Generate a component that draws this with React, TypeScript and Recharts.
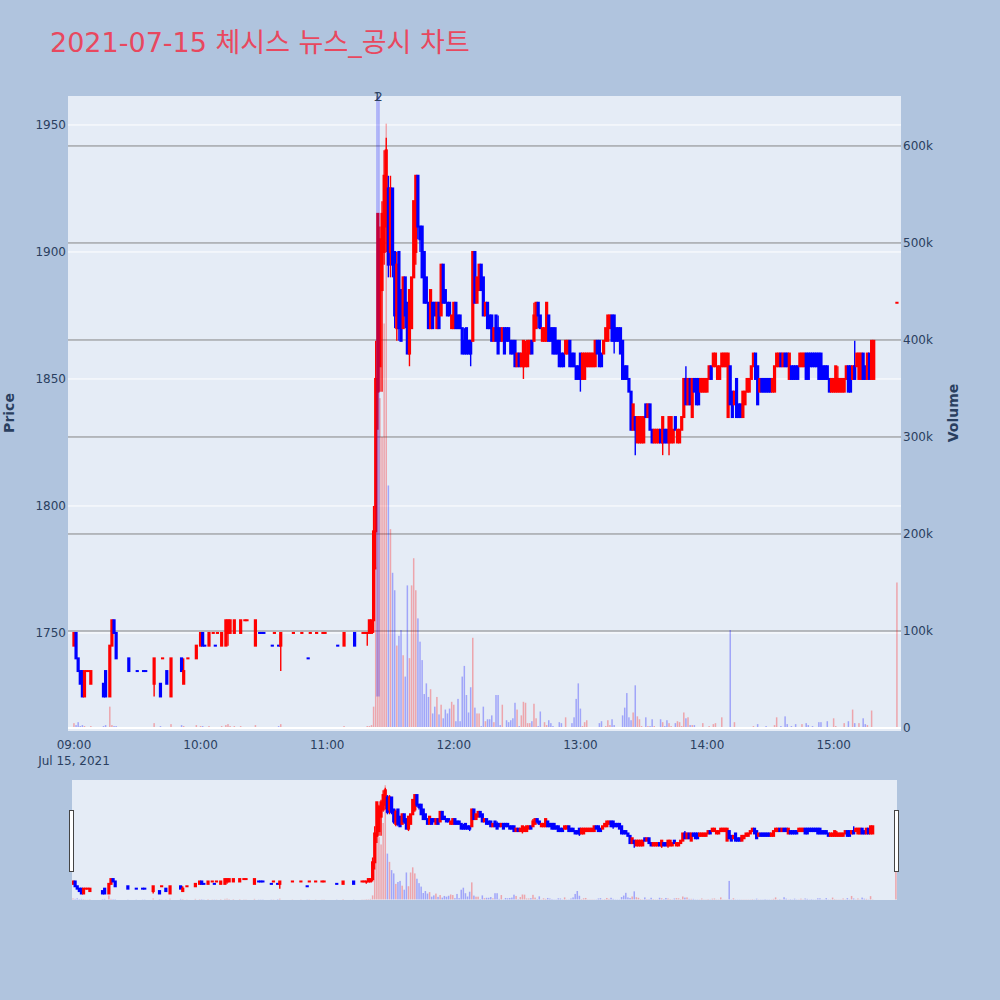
import React from 'react';
import { ComposedChart, Bar, XAxis, YAxis, CartesianGrid, ReferenceLine } from 'recharts';

const FONT = "'DejaVu Sans', Verdana, 'Noto Sans CJK KR', sans-serif";
const TITLE = '2021-07-15 체시스 뉴스_공시 차트';
const UP = '#ff0000';
const DOWN = '#0000ff';

// morning session: minutes after 09:00 that traded
const morningMinutes = [
  0, 1, 2, 3, 4, 5, 6, 7, 8, 14,
  15, 17, 18, 19, 20, 26, 30, 33, 34, 38,
  41, 42, 44, 46, 51, 52, 54, 58, 60, 61,
  62, 64, 66, 67, 68, 70, 72, 73, 74, 76,
  79, 81, 82, 86, 88, 89, 90, 94, 95, 97,
  98, 104, 108, 111, 112, 115, 118, 119, 125, 128,
  133, 137, 138, 139, 140,
];
const morningOpen = [
  1745, 1750, 1740, 1735, 1735, 1725, 1735, 1735, 1730, 1730,
  1735, 1725, 1745, 1755, 1750, 1740, 1735, 1735, 1735, 1730,
  1730, 1740, 1735, 1725, 1740, 1730, 1740, 1740, 1745, 1750,
  1745, 1745, 1750, 1745, 1750, 1745, 1745, 1750, 1750, 1750,
  1750, 1755, 1755, 1745, 1750, 1750, 1750, 1745, 1750, 1745,
  1745, 1750, 1750, 1740, 1750, 1750, 1750, 1750, 1745, 1745,
  1750, 1750, 1750, 1750, 1750,
];
const morningHigh = [
  1750, 1750, 1740, 1735, 1735, 1735, 1735, 1735, 1735, 1730,
  1735, 1745, 1755, 1755, 1750, 1740, 1735, 1735, 1735, 1740,
  1730, 1740, 1735, 1740, 1740, 1740, 1740, 1745, 1750, 1750,
  1745, 1750, 1750, 1745, 1750, 1750, 1755, 1755, 1755, 1755,
  1755, 1755, 1755, 1755, 1750, 1750, 1750, 1745, 1750, 1745,
  1750, 1750, 1750, 1740, 1750, 1750, 1750, 1750, 1745, 1750,
  1750, 1750, 1750, 1750, 1755,
];
const morningLow = [
  1745, 1740, 1735, 1730, 1725, 1725, 1735, 1735, 1730, 1725,
  1725, 1725, 1745, 1750, 1740, 1735, 1735, 1735, 1735, 1725,
  1725, 1740, 1730, 1725, 1735, 1730, 1740, 1740, 1745, 1745,
  1745, 1745, 1750, 1745, 1750, 1745, 1745, 1745, 1750, 1750,
  1750, 1755, 1755, 1745, 1750, 1750, 1750, 1745, 1750, 1745,
  1735, 1750, 1750, 1740, 1750, 1750, 1750, 1750, 1745, 1745,
  1745, 1750, 1750, 1745, 1750,
];
const morningClose = [
  1750, 1740, 1735, 1730, 1725, 1735, 1735, 1735, 1735, 1725,
  1725, 1745, 1755, 1750, 1740, 1735, 1735, 1735, 1735, 1740,
  1725, 1740, 1730, 1740, 1735, 1735, 1740, 1745, 1750, 1745,
  1745, 1750, 1750, 1745, 1750, 1750, 1755, 1755, 1755, 1755,
  1755, 1755, 1755, 1755, 1750, 1750, 1750, 1745, 1750, 1745,
  1750, 1750, 1750, 1740, 1750, 1750, 1750, 1750, 1745, 1750,
  1745, 1750, 1750, 1750, 1755,
];
const morningVolume = [
  5, 3, 6, 2, 3, 2, 1, 1, 2, 2,
  3, 22, 3, 2, 2, 1, 1, 1, 1, 5,
  2, 1, 1, 4, 3, 2, 1, 3, 2, 2,
  1, 2, 1, 1, 1, 2, 3, 4, 2, 2,
  2, 1, 1, 3, 1, 1, 1, 1, 1, 2,
  4, 1, 1, 1, 1, 1, 1, 1, 1, 2,
  1, 1, 1, 2, 2,
];

// continuous trading from 11:21 (minute 141) to 15:19 (minute 379)
const denseStart = 141;
const denseOpen = [
  1750, 1755, 1790, 1845, 1855, 1885, 1900, 1910, 1925, 1900,
  1925, 1900, 1870, 1900, 1885, 1870, 1890, 1880, 1860, 1870,
  1890, 1900, 1930, 1910, 1910, 1900, 1890, 1880, 1870, 1880,
  1880, 1870, 1880, 1875, 1895, 1885, 1880, 1880, 1870, 1870,
  1880, 1875, 1875, 1870, 1865, 1870, 1865, 1865, 1865, 1900,
  1880, 1885, 1895, 1890, 1875, 1880, 1875, 1875, 1865, 1875,
  1870, 1870, 1865, 1870, 1870, 1870, 1865, 1865, 1865, 1855,
  1860, 1855, 1855, 1855, 1855, 1860, 1865, 1865, 1870, 1880,
  1875, 1865, 1865, 1865, 1875, 1870, 1870, 1870, 1865, 1865,
  1860, 1860, 1860, 1860, 1865, 1860, 1860, 1855, 1855, 1860,
  1850, 1850, 1855, 1855, 1855, 1855, 1855, 1865, 1865, 1860,
  1860, 1865, 1865, 1870, 1875, 1875, 1870, 1870, 1870, 1865,
  1855, 1855, 1850, 1845, 1830, 1835, 1825, 1825, 1825, 1825,
  1840, 1835, 1840, 1830, 1825, 1825, 1825, 1830, 1825, 1830,
  1830, 1825, 1825, 1825, 1835, 1825, 1825, 1830, 1835, 1850,
  1840, 1850, 1835, 1850, 1850, 1850, 1845, 1845, 1845, 1845,
  1850, 1855, 1855, 1855, 1850, 1850, 1855, 1855, 1855, 1835,
  1855, 1845, 1840, 1850, 1840, 1840, 1835, 1840, 1845, 1845,
  1850, 1855, 1860, 1855, 1845, 1850, 1850, 1850, 1850, 1850,
  1845, 1845, 1855, 1855, 1860, 1855, 1860, 1860, 1850, 1855,
  1855, 1855, 1855, 1855, 1855, 1855, 1860, 1860, 1860, 1860,
  1860, 1860, 1860, 1860, 1855, 1855, 1855, 1850, 1845, 1845,
  1845, 1845, 1845, 1845, 1845, 1850, 1855, 1855, 1850, 1855,
  1855, 1850, 1850, 1860, 1855, 1850, 1860, 1850, 1850,
];
const denseHigh = [
  1755, 1800, 1865, 1915, 1910, 1920, 1940, 1945, 1930, 1930,
  1925, 1900, 1900, 1900, 1885, 1890, 1890, 1880, 1885, 1890,
  1920, 1930, 1930, 1910, 1910, 1900, 1890, 1880, 1885, 1880,
  1880, 1880, 1880, 1895, 1895, 1885, 1880, 1880, 1875, 1880,
  1880, 1875, 1875, 1870, 1870, 1870, 1865, 1865, 1900, 1900,
  1890, 1895, 1895, 1890, 1880, 1880, 1875, 1875, 1870, 1875,
  1875, 1870, 1870, 1870, 1870, 1870, 1865, 1865, 1865, 1860,
  1860, 1860, 1865, 1865, 1865, 1865, 1865, 1880, 1880, 1880,
  1875, 1870, 1870, 1880, 1875, 1870, 1870, 1870, 1865, 1865,
  1860, 1860, 1865, 1865, 1865, 1860, 1860, 1855, 1855, 1860,
  1860, 1860, 1860, 1860, 1860, 1860, 1865, 1865, 1865, 1860,
  1865, 1870, 1875, 1875, 1875, 1875, 1870, 1870, 1870, 1865,
  1855, 1855, 1850, 1845, 1840, 1835, 1835, 1835, 1835, 1835,
  1840, 1840, 1840, 1830, 1830, 1830, 1830, 1830, 1835, 1830,
  1830, 1835, 1835, 1830, 1835, 1830, 1830, 1835, 1850, 1855,
  1850, 1850, 1850, 1850, 1850, 1850, 1850, 1850, 1850, 1850,
  1855, 1855, 1860, 1860, 1855, 1855, 1860, 1860, 1860, 1860,
  1855, 1845, 1845, 1850, 1840, 1840, 1845, 1845, 1850, 1850,
  1855, 1860, 1860, 1855, 1850, 1850, 1850, 1850, 1850, 1850,
  1850, 1855, 1860, 1860, 1860, 1860, 1860, 1860, 1860, 1855,
  1855, 1855, 1855, 1860, 1860, 1860, 1860, 1860, 1860, 1860,
  1860, 1860, 1860, 1860, 1855, 1855, 1855, 1850, 1850, 1850,
  1855, 1855, 1850, 1850, 1850, 1855, 1855, 1855, 1855, 1865,
  1860, 1860, 1860, 1860, 1855, 1860, 1860, 1865, 1865,
];
const denseLow = [
  1750, 1750, 1775, 1830, 1845, 1845, 1895, 1900, 1890, 1890,
  1890, 1870, 1865, 1865, 1865, 1870, 1870, 1860, 1855, 1870,
  1890, 1895, 1905, 1900, 1890, 1880, 1880, 1870, 1870, 1870,
  1875, 1870, 1870, 1875, 1880, 1880, 1875, 1875, 1870, 1870,
  1870, 1870, 1870, 1860, 1860, 1860, 1860, 1855, 1865, 1880,
  1880, 1885, 1885, 1875, 1875, 1870, 1870, 1865, 1865, 1865,
  1860, 1865, 1865, 1860, 1865, 1865, 1860, 1860, 1855, 1855,
  1855, 1855, 1850, 1855, 1855, 1860, 1860, 1865, 1870, 1870,
  1870, 1865, 1865, 1865, 1865, 1865, 1860, 1860, 1860, 1855,
  1855, 1855, 1860, 1860, 1855, 1855, 1855, 1850, 1850, 1845,
  1850, 1850, 1855, 1855, 1855, 1855, 1855, 1860, 1855, 1855,
  1860, 1865, 1865, 1870, 1865, 1860, 1865, 1865, 1860, 1850,
  1850, 1850, 1845, 1830, 1830, 1820, 1825, 1825, 1825, 1825,
  1835, 1835, 1830, 1825, 1825, 1825, 1825, 1825, 1820, 1825,
  1825, 1820, 1825, 1825, 1830, 1825, 1825, 1830, 1835, 1840,
  1840, 1840, 1835, 1845, 1840, 1840, 1845, 1845, 1845, 1845,
  1850, 1850, 1855, 1855, 1850, 1850, 1855, 1855, 1855, 1835,
  1840, 1835, 1840, 1835, 1835, 1835, 1835, 1840, 1845, 1845,
  1850, 1855, 1850, 1840, 1845, 1845, 1845, 1845, 1845, 1845,
  1845, 1845, 1855, 1855, 1855, 1855, 1855, 1855, 1850, 1850,
  1850, 1850, 1850, 1855, 1855, 1855, 1850, 1850, 1855, 1855,
  1855, 1855, 1850, 1850, 1850, 1850, 1850, 1845, 1845, 1845,
  1845, 1845, 1845, 1845, 1845, 1850, 1845, 1845, 1850, 1850,
  1855, 1850, 1850, 1850, 1850, 1850, 1850, 1850, 1850,
];
const denseClose = [
  1755, 1790, 1850, 1915, 1905, 1915, 1930, 1940, 1895, 1925,
  1895, 1875, 1895, 1870, 1865, 1890, 1875, 1860, 1885, 1890,
  1920, 1930, 1910, 1905, 1890, 1880, 1880, 1870, 1885, 1870,
  1875, 1880, 1870, 1895, 1880, 1880, 1875, 1875, 1875, 1880,
  1870, 1870, 1870, 1860, 1860, 1860, 1860, 1860, 1900, 1880,
  1890, 1895, 1885, 1875, 1880, 1870, 1870, 1865, 1870, 1865,
  1860, 1865, 1870, 1860, 1865, 1865, 1860, 1860, 1855, 1860,
  1855, 1860, 1865, 1860, 1865, 1865, 1860, 1875, 1880, 1875,
  1870, 1870, 1870, 1880, 1865, 1865, 1860, 1860, 1860, 1855,
  1855, 1855, 1865, 1865, 1855, 1855, 1855, 1850, 1850, 1850,
  1860, 1860, 1860, 1860, 1860, 1860, 1865, 1860, 1855, 1855,
  1865, 1870, 1875, 1875, 1865, 1865, 1865, 1865, 1860, 1850,
  1850, 1850, 1845, 1830, 1840, 1830, 1835, 1835, 1835, 1835,
  1835, 1840, 1830, 1825, 1830, 1830, 1830, 1825, 1835, 1825,
  1825, 1835, 1835, 1830, 1830, 1830, 1830, 1835, 1850, 1840,
  1850, 1840, 1850, 1845, 1840, 1840, 1850, 1850, 1850, 1850,
  1855, 1850, 1860, 1860, 1855, 1855, 1860, 1860, 1860, 1860,
  1840, 1835, 1845, 1835, 1835, 1835, 1845, 1845, 1850, 1850,
  1855, 1860, 1850, 1840, 1850, 1845, 1845, 1845, 1845, 1845,
  1850, 1855, 1860, 1860, 1855, 1860, 1855, 1855, 1860, 1850,
  1850, 1850, 1850, 1860, 1860, 1860, 1850, 1850, 1855, 1855,
  1855, 1855, 1850, 1850, 1850, 1850, 1850, 1845, 1850, 1850,
  1855, 1850, 1850, 1850, 1850, 1855, 1845, 1845, 1855, 1850,
  1860, 1860, 1860, 1850, 1850, 1860, 1850, 1865, 1865,
];
// volume in thousands of shares
const denseVolume = [
  3, 22, 166, 430, 340, 300, 417, 623, 250, 205,
  160, 142, 85, 95, 101, 75, 53, 147, 72, 147,
  175, 142, 113, 89, 70, 35, 46, 32, 40, 15,
  22, 32, 14, 24, 10, 19, 15, 20, 27, 24,
  7, 30, 7, 53, 64, 34, 16, 42, 93, 21,
  15, 15, 2, 22, 7, 9, 9, 13, 6, 34,
  34, 3, 24, 1, 8, 6, 8, 10, 26, 19,
  2, 13, 27, 26, 5, 5, 7, 25, 10, 2,
  17, 1, 6, 3, 8, 5, 2, 1, 1, 6,
  5, 1, 11, 1, 1, 5, 11, 30, 46, 20,
  2, 6, 8, 1, 1, 1, 1, 1, 5, 7,
  1, 2, 8, 3, 9, 3, 1, 1, 1, 13,
  21, 36, 11, 8, 16, 44, 12, 9, 2, 1,
  11, 2, 2, 9, 2, 1, 1, 9, 6, 2,
  8, 5, 2, 1, 5, 7, 6, 2, 16, 10,
  11, 3, 3, 3, 1, 1, 1, 5, 1, 1,
  2, 1, 4, 5, 1, 1, 11, 1, 1, 1,
  101, 1, 6, 1, 1, 1, 1, 1, 1, 1,
  1, 2, 1, 4, 1, 1, 1, 2, 1, 1,
  1, 3, 11, 1, 2, 1, 12, 4, 1, 2,
  1, 4, 1, 1, 4, 1, 5, 3, 1, 2,
  1, 1, 6, 6, 1, 1, 7, 1, 1, 10,
  2, 1, 1, 1, 5, 1, 7, 1, 19, 5,
  1, 5, 1, 10, 4, 3, 1, 18, 1,
];

// closing auction at 15:30
const closeMinute = 390;
const closePrice = 1880;
const closeVolume = 150;

// news disclosures (minutes after 09:00)
const newsMinutes = [143.6, 144.5];
const newsLabels = ['1', '2'];

const timeTicks = [0, 60, 120, 180, 240, 300, 360];
const timeLabels = ['09:00', '10:00', '11:00', '12:00', '13:00', '14:00', '15:00'];
const priceTicks = [1750, 1800, 1850, 1900, 1950];
const volumeTicks = [0, 100, 200, 300, 400, 500, 600];

const priceDomain = [1711.4, 1961.4];
const volumeDomain = [-3.1, 651.5];
const timeDomain = [-2.84, 391.9];
const sliderDomain = [-0.5, 390.5];

type Row = { m: number; o: number; h: number; l: number; c: number; v: number; range: number[]; up: boolean };

const buildRows = (): Row[] => {
  const raw: Omit<Row, 'up' | 'range'>[] = [];
  morningMinutes.forEach((m, i) =>
    raw.push({ m, o: morningOpen[i], h: morningHigh[i], l: morningLow[i], c: morningClose[i], v: morningVolume[i] })
  );
  denseOpen.forEach((o, i) =>
    raw.push({ m: denseStart + i, o, h: denseHigh[i], l: denseLow[i], c: denseClose[i], v: denseVolume[i] })
  );
  raw.push({ m: closeMinute, o: closePrice, h: closePrice, l: closePrice, c: closePrice, v: closeVolume });

  let prevClose = raw[0].o;
  let prevUp = true;
  return raw.map((r) => {
    let up = prevUp;
    if (r.c > r.o) up = true;
    else if (r.c < r.o) up = false;
    else if (r.c > prevClose) up = true;
    else if (r.c < prevClose) up = false;
    prevClose = r.c;
    prevUp = up;
    return { ...r, range: [r.l, r.h], up };
  });
};

const rows = buildRows();
const newsLow = Math.min(...rows.map((r) => r.l));

const Candle = (props: any) => {
  const { x, y, width, height, payload } = props;
  if (x == null || y == null || !payload) return null;
  const { o, h, l, c, up } = payload;
  const cx = x + width / 2;
  const span = h - l;
  const py = (p: number) => (span === 0 ? y : y + ((h - p) / span) * height);
  const color = up ? UP : DOWN;
  const top = py(Math.max(o, c));
  const bot = py(Math.min(o, c));
  return (
    <g>
      {span > 0 && <line x1={cx} x2={cx} y1={y} y2={y + height} stroke={color} strokeWidth={1.4} />}
      <rect x={cx - 1.6} y={top - 1} width={3.2} height={bot - top + 2} fill={color} />
    </g>
  );
};

const VolumeBar = (props: any) => {
  const { x, y, width, height, payload } = props;
  if (x == null || y == null || !payload || !(height > 0)) return null;
  const cx = x + width / 2;
  return <rect x={cx - 0.75} y={y} width={1.5} height={height} fill={payload.up ? UP : DOWN} fillOpacity={0.3} />;
};

const TimeTick = (props: any) => {
  const { x, y, payload } = props;
  const idx = timeTicks.indexOf(payload.value);
  return (
    <g>
      <text x={x} y={y + 15.5} textAnchor="middle" fontSize={12} fill="#2a3f5f">
        {timeLabels[idx]}
      </text>
      {idx === 0 && (
        <text x={x} y={y + 31.5} textAnchor="middle" fontSize={12} fill="#2a3f5f">
          Jul 15, 2021
        </text>
      )}
    </g>
  );
};

const App: React.FC = () => {
  return (
    <div
      style={{
        position: 'absolute', left: 0, top: 0, width: 1000, height: 1000,
        background: '#b0c4de', fontFamily: FONT, overflow: 'hidden',
      }}
    >
      <div style={{ position: 'absolute', left: 0, top: 0 }}>
        <ComposedChart
          width={1000}
          height={800}
          data={rows}
          margin={{ top: 96, right: 39, bottom: 29, left: 8 }}
          barGap={-2}
        >
          <CartesianGrid xAxisId="t" yAxisId="price" vertical={false} syncWithTicks stroke="#ffffff" fill="#e5ecf6" fillOpacity={1} />
          <CartesianGrid xAxisId="t" yAxisId="vol" vertical={false} syncWithTicks stroke="#858585" />
          <XAxis
            xAxisId="t"
            dataKey="m"
            type="number"
            domain={timeDomain}
            allowDataOverflow
            ticks={timeTicks}
            tick={<TimeTick />}
            axisLine={false}
            tickLine={false}
            tickSize={0}
            height={40}
          />
          <YAxis
            yAxisId="price"
            orientation="left"
            type="number"
            domain={priceDomain}
            allowDataOverflow
            ticks={priceTicks}
            width={60}
            axisLine={false}
            tickLine={false}
            tickSize={0}
            tickMargin={2}
            tick={{ fill: '#2a3f5f', fontSize: 12 }}
          />
          <YAxis
            yAxisId="vol"
            orientation="right"
            type="number"
            domain={volumeDomain}
            allowDataOverflow
            ticks={volumeTicks}
            tickFormatter={(v: number) => (v === 0 ? '0' : `${v}k`)}
            width={60}
            axisLine={false}
            tickLine={false}
            tickSize={0}
            tickMargin={2}
            tick={{ fill: '#2a3f5f', fontSize: 12 }}
          />
          <ReferenceLine xAxisId="t" yAxisId="vol" y={0} stroke="#ffffff" strokeWidth={2} />
          <Bar xAxisId="t" yAxisId="vol" dataKey="v" barSize={2} shape={<VolumeBar />} isAnimationActive={false} />
          <Bar xAxisId="t" yAxisId="price" dataKey="range" barSize={2} shape={<Candle />} isAnimationActive={false} />
          {newsMinutes.map((t, i) => (
            <ReferenceLine
              key={i}
              xAxisId="t"
              yAxisId="price"
              segment={[{ x: t, y: newsLow }, { x: t, y: priceDomain[1] }]}
              stroke="rgba(0,0,255,0.3)"
              strokeWidth={1.5}
              ifOverflow="visible"
              label={{ value: newsLabels[i], position: 'top', offset: -5, fill: '#2a3f5f', fontSize: 12 }}
            />
          ))}
        </ComposedChart>
      </div>

      {/* range slider */}
      <div style={{ position: 'absolute', left: 72, top: 780, width: 825, height: 120, background: '#e5ecf6' }}>
        <ComposedChart width={825} height={120} data={rows} margin={{ top: 0, right: 0, bottom: 0, left: 0 }} barGap={-2}>
          <XAxis xAxisId="t" dataKey="m" type="number" domain={sliderDomain} allowDataOverflow hide />
          <YAxis yAxisId="price" type="number" domain={priceDomain} allowDataOverflow hide />
          <YAxis yAxisId="vol" type="number" domain={volumeDomain} allowDataOverflow hide />
          <Bar xAxisId="t" yAxisId="vol" dataKey="v" barSize={2} shape={<VolumeBar />} isAnimationActive={false} />
          <Bar xAxisId="t" yAxisId="price" dataKey="range" barSize={2} shape={<Candle />} isAnimationActive={false} />
        </ComposedChart>
      </div>
      <div style={{ position: 'absolute', left: 69, top: 810, width: 3, height: 60, background: '#fff', border: '1px solid #444' }} />
      <div style={{ position: 'absolute', left: 894, top: 810, width: 3, height: 60, background: '#fff', border: '1px solid #444' }} />

      <svg width={1000} height={1000} style={{ position: 'absolute', left: 0, top: 0, pointerEvents: 'none' }}>
        <text x={50} y={52} fontSize={27} fill="#e8485f" fontFamily={FONT}>
          {TITLE}
        </text>
        <text transform="translate(14,413) rotate(-90)" textAnchor="middle" fontSize={14} fontWeight="bold" fill="#2a3f5f" fontFamily={FONT}>
          Price
        </text>
        <text transform="translate(958,413) rotate(-90)" textAnchor="middle" fontSize={14} fontWeight="bold" fill="#2a3f5f" fontFamily={FONT}>
          Volume
        </text>
      </svg>
    </div>
  );
};

export default App;
